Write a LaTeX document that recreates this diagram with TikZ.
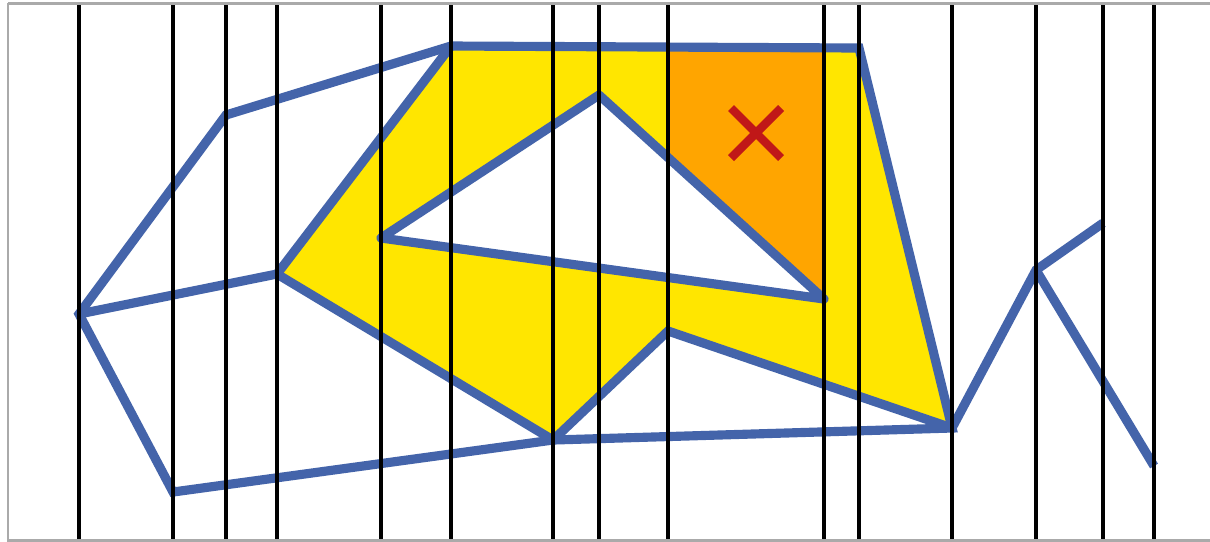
\documentclass[tikz,border=0pt]{standalone}
\begin{document}
\begin{tikzpicture}[x=0.01cm,y=-0.01cm,
  edge/.style={draw=blueline,line width=2.6pt},
  grid/.style={draw=black,line width=1pt},
  cross/.style={draw=redx,line width=2.4pt}]
\definecolor{blueline}{RGB}{68,100,170}
\definecolor{yel}{RGB}{255,230,0}
\definecolor{ora}{RGB}{255,165,0}
\definecolor{redx}{RGB}{192,24,24}
\definecolor{frame}{RGB}{170,170,170}
\useasboundingbox (0,0) rectangle (1210,541);
\fill[white] (0,0) rectangle (1210,541);
% points
\coordinate (A) at (79,314);
\coordinate (B) at (226,115);
\coordinate (C) at (451,46);
\coordinate (D) at (859,48);
\coordinate (E) at (952,428);
\coordinate (F) at (553,440);
\coordinate (G) at (173,492);
\coordinate (H) at (277,274);
\coordinate (M) at (668,331);
\coordinate (T1) at (381,238);
\coordinate (T2) at (599,95);
\coordinate (T3) at (824,299);
\coordinate (P) at (1036,270);
\coordinate (Q) at (1103,223);
\coordinate (R) at (1154,466);
\coordinate (O1) at (668,47);
\coordinate (O2) at (824,48);
\coordinate (O3) at (668,157.6);
% fills
\fill[yel,even odd rule] (H) -- (C) -- (D) -- (E) -- (M) -- (F) -- cycle
  (T1) -- (T2) -- (T3) -- cycle;
\fill[ora] (O1) -- (O2) -- (T3) -- (O3) -- cycle;
% blue edges
\draw[edge,line join=miter] (A) -- (B) -- (C) -- (D) -- (E) -- (F) -- (G) -- cycle;
\draw[edge] (A) -- (H) -- (C);
\draw[edge] (H) -- (F) -- (M) -- (E);
\draw[edge,line join=round,line cap=round] (T1) -- (T2) -- (T3) -- cycle;
\draw[edge] (E) -- (P) -- (Q);
\draw[edge] (P) -- (R);
% red cross
\coordinate (X1) at (731,108);
\coordinate (X2) at (781,158);
\coordinate (X3) at (781,108);
\coordinate (X4) at (731,158);
\draw[cross] (X1) -- (X2);
\draw[cross] (X3) -- (X4);
% vertical lines
\foreach \x in {79,173,226,277,381,451,553,599,668,824,859,952,1036,1103,1154}
  \draw[grid] (\x,3) -- (\x,540);
% frame
\draw[frame,line width=0.85pt] (8,3) -- (1215,3);
\draw[frame,line width=0.85pt] (8,3) -- (8,540) -- (1215,540);
\end{tikzpicture}
\end{document}
